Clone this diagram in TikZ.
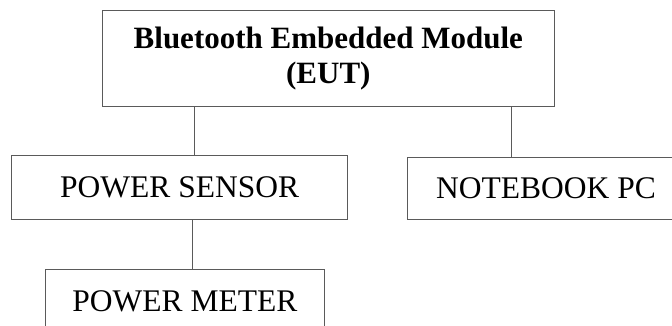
\documentclass[tikz,border=0pt]{standalone}
\usepackage{fontspec}
\setmainfont{Liberation Serif}
\definecolor{linegray}{RGB}{90,90,90}
\begin{document}
\begin{tikzpicture}[x=1pt,y=-1pt,
  box/.style={draw=linegray, line width=1pt, inner sep=0pt, align=center,
    font=\fontsize{31.5}{36}\selectfont},
  conn/.style={draw=linegray, line width=1pt}]
\useasboundingbox (0,0) rectangle (672,325);
\node[box, minimum width=451.3pt, minimum height=96pt,
  font=\fontsize{31}{35.6}\selectfont\bfseries] (eut) at (328.35,58.7)
  {Bluetooth Embedded Module\\(EUT)};
\node[box, minimum width=335.9pt, minimum height=64pt] (ps) at (179.65,187) {POWER SENSOR};
\node[box, minimum width=277.4pt, minimum height=61.7pt] (nb) at (546,188.15) {NOTEBOOK PC};
\node[box, minimum width=278.3pt, minimum height=64pt] (pm) at (184.85,301.3) {POWER METER};
\draw[conn] ([xshift=14.35pt]ps.north) -- ([xshift=14.35pt]ps.north |- eut.south);
\draw[conn] ([xshift=-35pt]nb.north) -- ([xshift=-35pt]nb.north |- eut.south);
\draw[conn] ([xshift=7.15pt]pm.north) -- ([xshift=7.15pt]pm.north |- ps.south);
\end{tikzpicture}
\end{document}
